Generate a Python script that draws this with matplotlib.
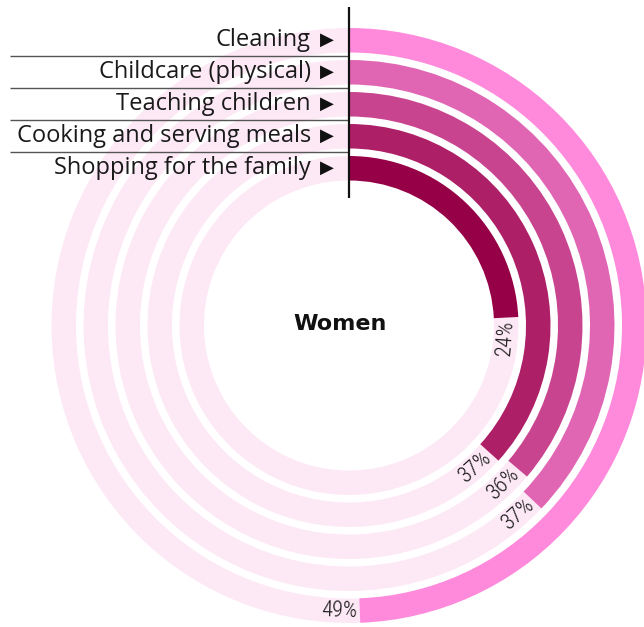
import matplotlib
matplotlib.use("Agg")
import matplotlib.pyplot as plt
from matplotlib.patches import Wedge
import numpy as np

# ---- data ----
categories = ["Cleaning", "Childcare (physical)", "Teaching children",
              "Cooking and serving meals", "Shopping for the family"]
values = [49.4, 37.1, 36.2, 36.7, 24.2]          # percent of women
value_labels = ["49%", "37%", "36%", "37%", "24%"]
center_title = "Women"

# ---- style ----
colors = ["#FF8ADB", "#E066B4", "#C9448F", "#AD1F66", "#960046"]
track_color = "#FDE9F5"

W, H = 644, 627
fig = plt.figure(figsize=(W / 100, H / 100), dpi=100)
ax = fig.add_axes([0, 0, 1, 1])
ax.set_xlim(0, W)
ax.set_ylim(0, H)
ax.set_aspect("equal")
ax.axis("off")

cx, cy = 349, H - 325.5
outer0 = 297.5
step = 32
width = 24.5

for i, (cat, v, lab, col) in enumerate(zip(categories, values, value_labels, colors)):
    r_out = outer0 - step * i
    r_mid = r_out - width / 2
    theta = v / 100 * 360  # clockwise from top
    # track
    ax.add_patch(Wedge((cx, cy), r_out, 90, 450 - theta, width=width,
                       facecolor=track_color, edgecolor="none", zorder=1))
    # bar
    ax.add_patch(Wedge((cx, cy), r_out, 90 - theta, 90, width=width,
                       facecolor=col, edgecolor="none", zorder=2))
    # value label on the track just after the bar end
    off = np.degrees(20 / r_mid)
    ang = theta + off
    a = np.radians(ang)
    tx = cx + r_mid * np.sin(a)
    ty = cy + r_mid * np.cos(a)
    rot = -ang if ang <= 90 else 180 - ang
    ax.text(tx, ty, lab, rotation=rot, rotation_mode="anchor",
            ha="center", va="center", fontsize=16, fontweight=300,
            family=["Roboto Condensed", "DejaVu Sans"],
            color="#1a1a1a", zorder=4)
    # category label at the left
    ly = H - (40 + step * i)
    ax.text(311, ly, cat, ha="right", va="center", fontsize=17,
            family=["Open Sans", "DejaVu Sans"], color="#1a1a1a", zorder=4)
    ax.text(334, ly, "\u25B6", ha="right", va="center", fontsize=13,
            family=["DejaVu Sans"], color="#111111", zorder=4)
    if i > 0:
        sy = H - (56 + step * (i - 1))
        ax.plot([10, 349], [sy, sy], color="#555555", lw=1.0, zorder=3,
                solid_capstyle="butt")

ax.plot([349, 349], [H - 7, H - 198], color="#111111", lw=1.6, zorder=5,
        solid_capstyle="butt")

ax.text(340, H - 324, center_title, ha="center", va="center", fontsize=16,
        fontweight="bold", family=["DejaVu Sans"], color="#111111", zorder=4)

fig.savefig("out.png", dpi=100)
